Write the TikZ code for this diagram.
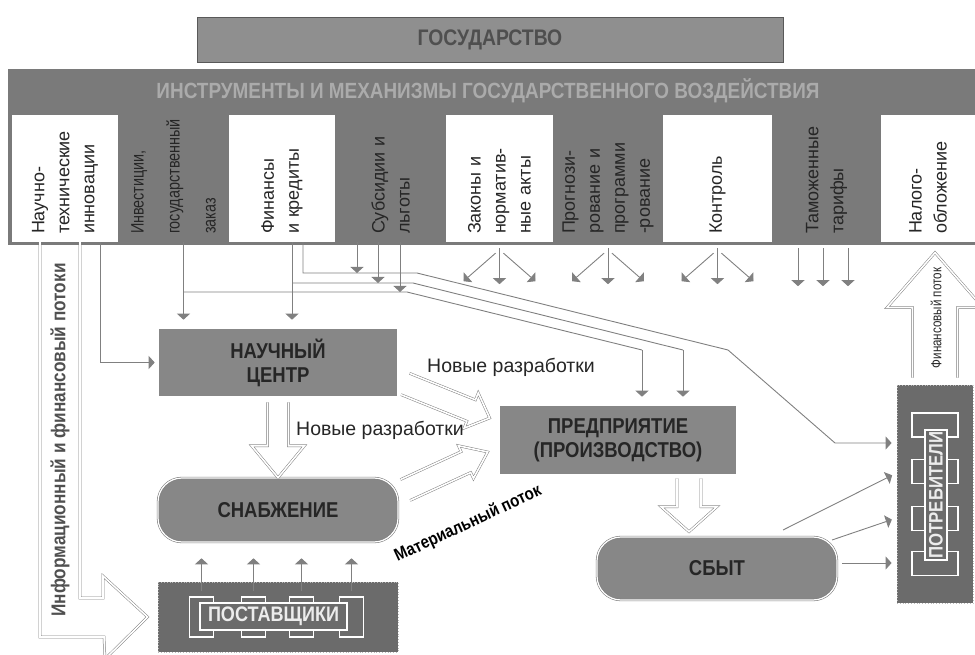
\documentclass[tikz,border=0pt]{standalone}
\usepackage{fontspec}
\setmainfont{Liberation Sans}
\newfontfamily\condfont{Liberation Sans}[FakeStretch=0.86]
\newfontfamily\narrowfont{Liberation Sans}[FakeStretch=0.8]
\usetikzlibrary{arrows.meta,calc}

\definecolor{boxgray}{HTML}{878787}
\definecolor{bargray}{HTML}{7A7A7A}
\definecolor{stategray}{HTML}{8F8F8F}
\definecolor{darkbox}{HTML}{6B6B6B}
\definecolor{linegray}{HTML}{808080}
\definecolor{inktext}{HTML}{262626}
\definecolor{titlegray}{HTML}{4F4F4F}
\definecolor{bartext}{HTML}{ABABAB}
\definecolor{flowtext}{HTML}{505050}

% hollow arrow: start, tip, shaft half width, head half width, head length
\newcommand\flowarrow[5]{%
  \coordinate (fa-base) at ($(#2)!#5!(#1)$);
  \draw[flow] ($(#1)!#3!90:(#2)$) -- ($(fa-base)!#3!90:(#2)$) -- ($(fa-base)!#4!90:(#2)$) -- (#2)
    -- ($(fa-base)!#4!-90:(#2)$) -- ($(fa-base)!#3!-90:(#2)$) -- ($(#1)!#3!-90:(#2)$);
}

\begin{document}
\begin{tikzpicture}[x=1pt, y=-1pt,
    link/.style={draw=linegray, line width=0.9pt},
    arr/.style={link, -{Triangle[width=13pt,length=6pt]}},
    flow/.style={draw=linegray, line width=0.5pt, double=white, double distance=1.6pt},
    box/.style={draw=linegray, double=white, double distance=1.2pt, line width=0.6pt, fill=boxgray,
      text=inktext, align=center, font=\condfont\bfseries\fontsize{21.5}{24}\selectfont},
    cell/.style={rotate=90, minimum width=127pt, text width=111pt, inner xsep=8pt, inner ysep=0pt,
      align=left, text=inktext, font=\fontsize{18}{25}\selectfont},
    whitecell/.style={cell, fill=white},
    crowd/.style={fill=darkbox, draw=gray!55, dotted, line width=0.8pt},
    chainbox/.style={draw=white, line width=1.4pt, fill=darkbox},
    chainname/.style={chainbox, text=white!85!gray, font=\condfont\bfseries\fontsize{21}{24}\selectfont}]

  \useasboundingbox (0,0) rectangle (975,655);

  \fill[bargray] (8,69) rectangle (975,245);
  \node[fill=stategray, draw=gray!70!black, line width=0.6pt, minimum width=586pt, minimum height=45pt,
    text=titlegray, font=\condfont\bfseries\fontsize{22.5}{24}\selectfont] (state) at (490,39.5) {ГОСУДАРСТВО};
  \node[text=bartext, font=\condfont\bfseries\fontsize{22}{24}\selectfont] (tools) at (488,91)
    {ИНСТРУМЕНТЫ И МЕХАНИЗМЫ ГОСУДАРСТВЕННОГО ВОЗДЕЙСТВИЯ};

  \node[whitecell, minimum height=106pt] (innov) at (65,178.5) {Научно-\\технические\\инновации};
  \node[cell, minimum height=111pt, font=\narrowfont\fontsize{18}{36}\selectfont] (invest) at (173.5,178.5)
    {Инвестиции,\\государственный\\заказ};
  \node[whitecell, minimum height=106pt] (fin) at (282,178.5) {Финансы\\и кредиты};
  \node[cell, minimum height=111pt] (subs) at (390.5,178.5) {Субсидии и\\льготы};
  \node[whitecell, minimum height=107pt] (law) at (499.5,178.5) {Законы и\\норматив-\\ные акты};
  \node[cell, minimum height=110pt] (plan) at (608,178.5) {Прогнози-\\рование и\\программи\\-рование};
  \node[whitecell, minimum height=109pt] (ctrl) at (717.5,178.5) {Контроль};
  \node[cell, minimum height=109pt] (tariff) at (826.5,178.5) {Таможенные\\тарифы};
  \node[whitecell, minimum height=94pt] (tax) at (928,178.5) {Налого-\\обложение};

  \node[box, minimum width=240pt, minimum height=69pt] (nc) at (278,362.5) {НАУЧНЫЙ\\ЦЕНТР};
  \node[box, rounded corners=24pt, minimum width=240pt, minimum height=64pt] (snab) at (278,510) {СНАБЖЕНИЕ};
  \node[box, minimum width=238pt, minimum height=70pt] (firm) at (618,440) {ПРЕДПРИЯТИЕ\\(ПРОИЗВОДСТВО)};
  \node[box, rounded corners=24pt, minimum width=240pt, minimum height=63pt] (sales) at (717,568.5) {СБЫТ};

  \node[crowd, minimum width=240pt, minimum height=70pt] (supp) at (278,617) {};
  \foreach \i/\x in {1/201.5, 2/253.5, 3/301.5, 4/351.5}
    \node[chainbox, minimum width=24pt, minimum height=40pt] (s\i) at (\x,617) {};
  \node[chainname, minimum width=147pt, minimum height=27pt, inner sep=0pt] (supname) at (273.5,616.5) {ПОСТАВЩИКИ};

  \node[crowd, minimum width=76pt, minimum height=218pt] (cons) at (935,494) {};
  \foreach \i/\y in {1/425, 2/471.5, 3/518.5, 4/563.5}
    \node[chainbox, minimum width=46pt, minimum height=24pt] (c\i) at (935,\y) {};
  \node[chainname, rotate=90, minimum width=130pt, minimum height=22pt, inner sep=0pt,
    font=\condfont\bfseries\fontsize{19.5}{22}\selectfont] (consname) at (936,495) {ПОТРЕБИТЕЛИ};

  \coordinate (i0) at ([xshift=35pt]innov.west);
  \coordinate (v1) at ([xshift=10pt]invest.west);
  \coordinate (f1) at ([xshift=10pt]fin.west);
  \coordinate (f2) at ([xshift=21pt]fin.west);
  \coordinate (t1) at (417,273);
  \coordinate (t2) at (413,283);
  \coordinate (t3) at (407,292);
  \coordinate (d1) at (728,350);
  \coordinate (d2) at (683,350);
  \coordinate (d3) at (642,350);
  \coordinate (k1) at (835,443);

  \draw[arr, shorten >=3pt] (i0) |- (nc.west);
  \draw[arr, shorten >=8pt] (v1) -- (v1 |- nc.north);
  \draw[arr, shorten >=8pt] (f1) -- (f1 |- nc.north);
  \draw[link] (v1 |- t3) -- (t3) -- (d3);
  \draw[arr, shorten >=8pt] (d3) -- (d3 |- firm.north);
  \draw[link] (f1 |- t2) -- (t2) -- (d2);
  \draw[arr, shorten >=8pt] (d2) -- (d2 |- firm.north);
  \draw[arr, shorten >=5pt] (f2) -- (f2 |- t1) -- (t1) -- (d1) -- (k1) -- (k1 -| cons.west);

  \foreach \dx/\t in {-33.5/t1, -12.5/t2, 9.5/t3} {
    \coordinate (sb) at ([xshift=\dx pt]subs.west);
    \draw[arr] (sb) -- (sb |- \t);
  }
  \foreach \n in {law, plan, ctrl} {
    \draw[arr, shorten <=6pt] (\n.west) -- ++(0,42);
    \draw[arr] ([xshift=-4pt,yshift=-11pt]\n.west) -- ++(-32,28);
    \draw[arr] ([xshift=4pt,yshift=-11pt]\n.west) -- ++(32,28);
  }
  \foreach \dx in {-28.5, -3.5, 21.5}
    \draw[arr, shorten <=6pt] ([xshift=\dx pt]tariff.west) -- ++(0,44);

  \foreach \i in {1,...,4}
    \draw[arr, shorten <=5pt, shorten >=16pt] (s\i.north) -- (s\i.north |- snab.south);

  \coordinate (o1) at (783,530);
  \coordinate (o2) at (832,540);
  \coordinate (o3) at (842,563);
  \foreach \a/\y in {o1/473, o2/518, o3/563}
    \draw[arr, shorten >=5pt] (\a) -- (cons.west |- 0,\y);

  \coordinate (a1) at ([yshift=-5pt]nc.south);
  \coordinate (a1t) at (snab.north);
  \flowarrow{a1}{a1t}{10.5pt}{26.5pt}{32pt}
  \coordinate (a2) at ([xshift=71pt,yshift=-3pt]firm.south);
  \coordinate (a2t) at ([xshift=-28pt,yshift=5pt]sales.north);
  \flowarrow{a2}{a2t}{12pt}{28pt}{25pt}
  \coordinate (a3) at ([xshift=7pt,yshift=-21.5pt]nc.east);
  \coordinate (a3t) at ([xshift=-9pt,yshift=22pt]firm.west);
  \flowarrow{a3}{a3t}{11.5pt}{19pt}{20pt}
  \coordinate (a4) at ([xshift=7pt,yshift=20pt]snab.east);
  \coordinate (a4t) at ([xshift=-11pt,yshift=-12pt]firm.west);
  \flowarrow{a4}{a4t}{11.5pt}{18pt}{24pt}
  \coordinate (fu) at ([yshift=7pt]cons.north);
  \coordinate (ft) at ([yshift=132pt]cons.north);
  \flowarrow{fu}{ft}{22.5pt}{48pt}{55pt}

  \coordinate (li) at ([xshift=15pt]innov.west);
  \coordinate (lo) at ([xshift=-25pt]innov.west);
  \coordinate (lt) at ([xshift=-10pt]supp.west);
  \draw[flow] (li) -- (li |- 0,598) -- (103,598) -- (103,576) -- (lt) -- (105,659) -- (104,637)
    -- (lo |- 0,637) -- (lo);

  \node[rotate=90, font=\condfont\bfseries\fontsize{20}{22}\selectfont, text=flowtext] (info) at (60,440)
    {Информационный и финансовый потоки};
  \node[rotate=90, font=\narrowfont\fontsize{14.5}{16}\selectfont, text=inktext] (fintext) at (936,318)
    {Финансовый поток};
  \node[font=\fontsize{19.5}{22}\selectfont, text=inktext] (nd1) at (511,367) {Новые разработки};
  \node[font=\fontsize{19.5}{22}\selectfont, text=inktext] (nd2) at (380,430) {Новые разработки};
  \node[rotate=25, font=\condfont\bfseries\fontsize{17.5}{20}\selectfont, text=black] (mat) at (468,524)
    {Материальный поток};
\end{tikzpicture}
\end{document}
